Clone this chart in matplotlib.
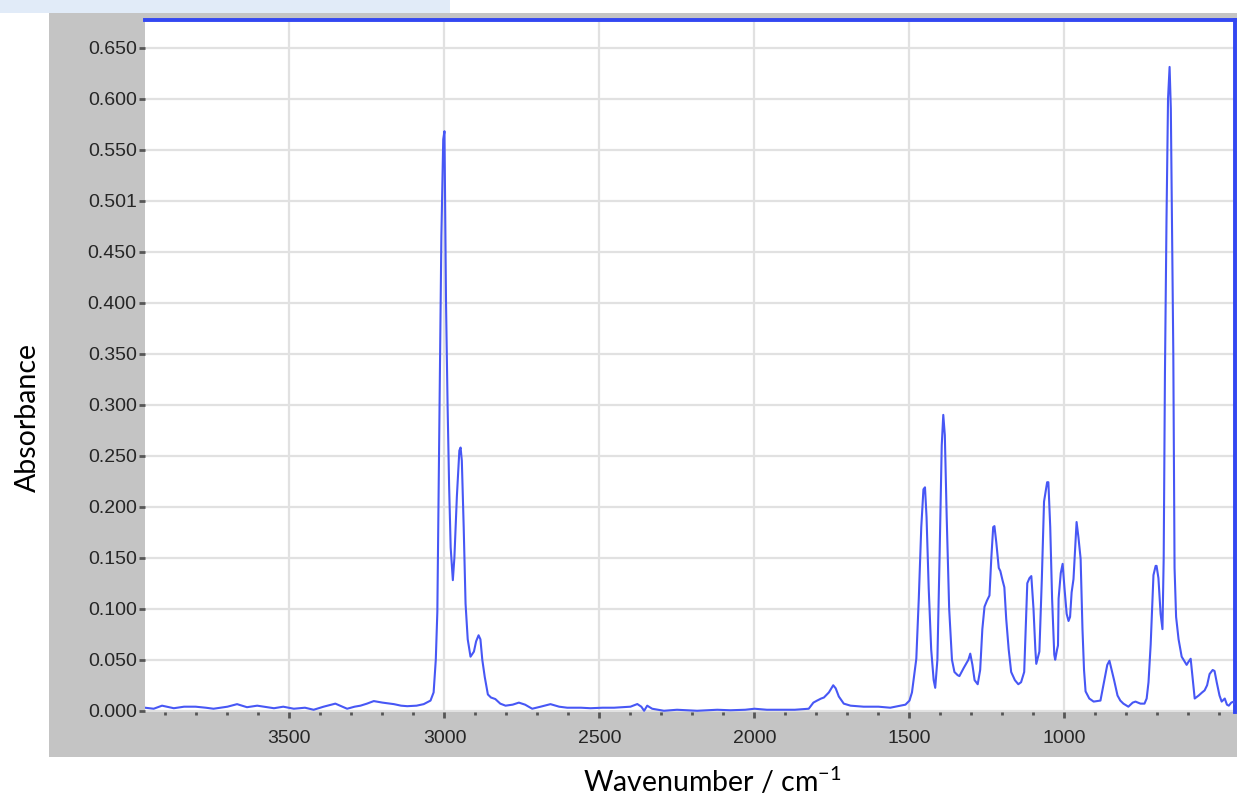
import numpy as np
import matplotlib
matplotlib.use("Agg")
import matplotlib.pyplot as plt
from matplotlib.patches import Rectangle

# IR spectrum (wavenumber in cm-1, absorbance)
wavenumber = [
    3966, 3938, 3911, 3873, 3840, 3803, 3770, 3745, 3700, 3669,
    3637, 3604, 3550, 3520, 3486, 3450, 3422, 3390, 3352, 3314,
    3290, 3271, 3250, 3228, 3200, 3163, 3140, 3120, 3090, 3067,
    3045, 3035, 3028, 3023, 3016, 3010, 3004, 3000, 2995, 2990,
    2985, 2980, 2973, 2968, 2960, 2952, 2948, 2944, 2938, 2932,
    2925, 2916, 2905, 2898, 2890, 2884, 2878, 2870, 2860, 2850,
    2836, 2820, 2803, 2780, 2760, 2740, 2717, 2690, 2658, 2630,
    2604, 2560, 2529, 2490, 2453, 2400, 2378, 2365, 2356, 2346,
    2330, 2292, 2250, 2185, 2120, 2078, 2030, 2000, 1960, 1916,
    1870, 1825, 1810, 1798, 1785, 1776, 1760, 1746, 1738, 1728,
    1712, 1690, 1648, 1600, 1562, 1530, 1513, 1500, 1492, 1478,
    1470, 1462, 1455, 1450, 1445, 1438, 1430, 1422, 1417, 1410,
    1403, 1396, 1391, 1386, 1380, 1372, 1363, 1355, 1345, 1339,
    1325, 1310, 1304, 1297, 1290, 1280, 1272, 1265, 1258, 1250,
    1242, 1236, 1230, 1226, 1220, 1212, 1207, 1200, 1194, 1188,
    1180, 1172, 1160, 1149, 1140, 1130, 1125, 1120, 1113, 1107,
    1100, 1094, 1091, 1081, 1073, 1066, 1056, 1052, 1046, 1040,
    1033, 1030, 1024, 1021, 1019, 1012, 1006, 1000, 993, 987,
    982, 977, 971, 961, 955, 948, 942, 937, 932, 920,
    906, 884, 871, 862, 855, 848, 840, 829, 820, 810,
    794, 780, 771, 755, 742, 735, 729, 722, 716, 713,
    706, 703, 697, 690, 684, 680, 676, 671, 666, 661,
    657, 653, 649, 645, 640, 632, 622, 614, 606, 600,
    593, 586, 580, 567, 556, 548, 540, 532, 522, 516,
    509, 500, 493, 483, 476, 470, 462, 454, 450,
]
absorbance = [
    0.003, 0.002, 0.005, 0.0025, 0.004, 0.004, 0.003, 0.002, 0.004, 0.0065,
    0.0035, 0.005, 0.0025, 0.004, 0.002, 0.003, 0.001, 0.004, 0.007, 0.002,
    0.004, 0.005, 0.007, 0.0095, 0.008, 0.0065, 0.005, 0.0045, 0.005, 0.0065,
    0.010, 0.018, 0.050, 0.097, 0.290, 0.465, 0.560, 0.568, 0.400, 0.300,
    0.220, 0.160, 0.128, 0.150, 0.210, 0.255, 0.258, 0.245, 0.180, 0.105,
    0.070, 0.053, 0.058, 0.068, 0.074, 0.070, 0.050, 0.033, 0.016, 0.013,
    0.0115, 0.007, 0.005, 0.006, 0.008, 0.006, 0.002, 0.004, 0.0065, 0.004,
    0.003, 0.003, 0.0025, 0.003, 0.003, 0.004, 0.0066, 0.004, 0.000, 0.005,
    0.002, 0.000, 0.001, 0.000, 0.001, 0.0005, 0.001, 0.002, 0.001, 0.001,
    0.001, 0.002, 0.008, 0.010, 0.012, 0.013, 0.018, 0.025, 0.022, 0.014,
    0.007, 0.005, 0.004, 0.004, 0.003, 0.005, 0.006, 0.010, 0.018, 0.051,
    0.110, 0.180, 0.217, 0.219, 0.190, 0.120, 0.060, 0.030, 0.0225, 0.050,
    0.150, 0.260, 0.290, 0.270, 0.190, 0.100, 0.050, 0.038, 0.035, 0.034,
    0.042, 0.050, 0.056, 0.045, 0.030, 0.026, 0.040, 0.080, 0.102, 0.108,
    0.113, 0.150, 0.180, 0.181, 0.165, 0.140, 0.137, 0.128, 0.121, 0.090,
    0.060, 0.038, 0.030, 0.026, 0.028, 0.038, 0.080, 0.125, 0.130, 0.132,
    0.100, 0.060, 0.046, 0.058, 0.130, 0.205, 0.224, 0.224, 0.180, 0.110,
    0.055, 0.050, 0.060, 0.064, 0.110, 0.135, 0.144, 0.120, 0.095, 0.088,
    0.092, 0.116, 0.129, 0.185, 0.170, 0.149, 0.080, 0.040, 0.019, 0.012,
    0.009, 0.010, 0.031, 0.045, 0.049, 0.040, 0.030, 0.015, 0.010, 0.007,
    0.004, 0.008, 0.009, 0.007, 0.007, 0.012, 0.028, 0.065, 0.110, 0.133,
    0.142, 0.142, 0.130, 0.095, 0.080, 0.150, 0.330, 0.480, 0.600, 0.631,
    0.590, 0.470, 0.350, 0.140, 0.092, 0.070, 0.053, 0.049, 0.045, 0.048,
    0.051, 0.030, 0.012, 0.015, 0.018, 0.020, 0.025, 0.036, 0.040, 0.039,
    0.028, 0.015, 0.009, 0.012, 0.006, 0.005, 0.008, 0.009, 0.007,
]

y_ticks = [0.0, 0.05, 0.10, 0.15, 0.20, 0.25, 0.30, 0.35, 0.40, 0.45, 0.50, 0.55, 0.60, 0.65]
y_tick_labels = ["0.000", "0.050", "0.100", "0.150", "0.200", "0.250", "0.300",
                 "0.350", "0.400", "0.450", "0.501", "0.550", "0.600", "0.650"]
x_ticks = [3500, 3000, 2500, 2000, 1500, 1000]
x_minor = list(range(3900, 449, -100))

W, H = 1237, 800
fig = plt.figure(figsize=(W / 100, H / 100), dpi=100)
fig.patch.set_facecolor("white")

# light blue strip left over from the screenshot and the gray plot panel
fig.patches.append(Rectangle((0, 787 / H), 450 / W, 13 / H, transform=fig.transFigure,
                             facecolor="#e1ebf8", edgecolor="none", zorder=-2))
fig.patches.append(Rectangle((49 / W, 43 / H), (W - 49) / W, 744 / H, transform=fig.transFigure,
                             facecolor="#c4c4c4", edgecolor="none", zorder=-2))

ax = fig.add_axes([145 / W, 88 / H, 1090 / W, 692 / H])
ax.set_zorder(2)
ax.set_facecolor("white")
ax.plot(wavenumber, absorbance, color="#4757f5", lw=1.5, zorder=3)

ax.set_xlim(3966, 450)
ax.set_ylim(-0.0012, 0.677)

ax.set_yticks(y_ticks)
ax.set_yticklabels(y_tick_labels)
ax.set_xticks(x_ticks)
ax.set_xticks(x_minor, minor=True)
ax.grid(True, which="major", color="#e1e1e1", lw=1.6, zorder=0)
ax.set_axisbelow(True)

ax.tick_params(axis="both", which="major", direction="out", length=4, width=2,
               color="#555555", labelcolor="#262626", labelsize=14)
ax.tick_params(axis="y", pad=2)
ax.tick_params(axis="x", pad=9)
ax.tick_params(axis="x", which="minor", direction="out", length=2, width=2, color="#555555")
for lab in ax.get_xticklabels() + ax.get_yticklabels():
    lab.set_fontfamily("Liberation Sans")

ax.spines["left"].set_visible(False)
ax.spines["bottom"].set_visible(False)
for side in ("top", "right"):
    ax.spines[side].set_color("#3347f2")
    ax.spines[side].set_linewidth(2.8)

plt.rcParams["mathtext.fontset"] = "custom"
plt.rcParams["mathtext.rm"] = "Lato"
plt.rcParams["mathtext.it"] = "Lato"
fig.text(28 / W, 1 - 417 / H, "Absorbance", rotation=90, ha="center", va="center",
         fontsize=20.5, family="Lato", color="black")
fig.text(712 / W, 1 - 781 / H, r"Wavenumber / cm$^{\mathregular{-1}}$", ha="center", va="center",
         fontsize=20.5, family="Lato", color="black")

fig.savefig("out.png", dpi=100, facecolor=fig.get_facecolor())
